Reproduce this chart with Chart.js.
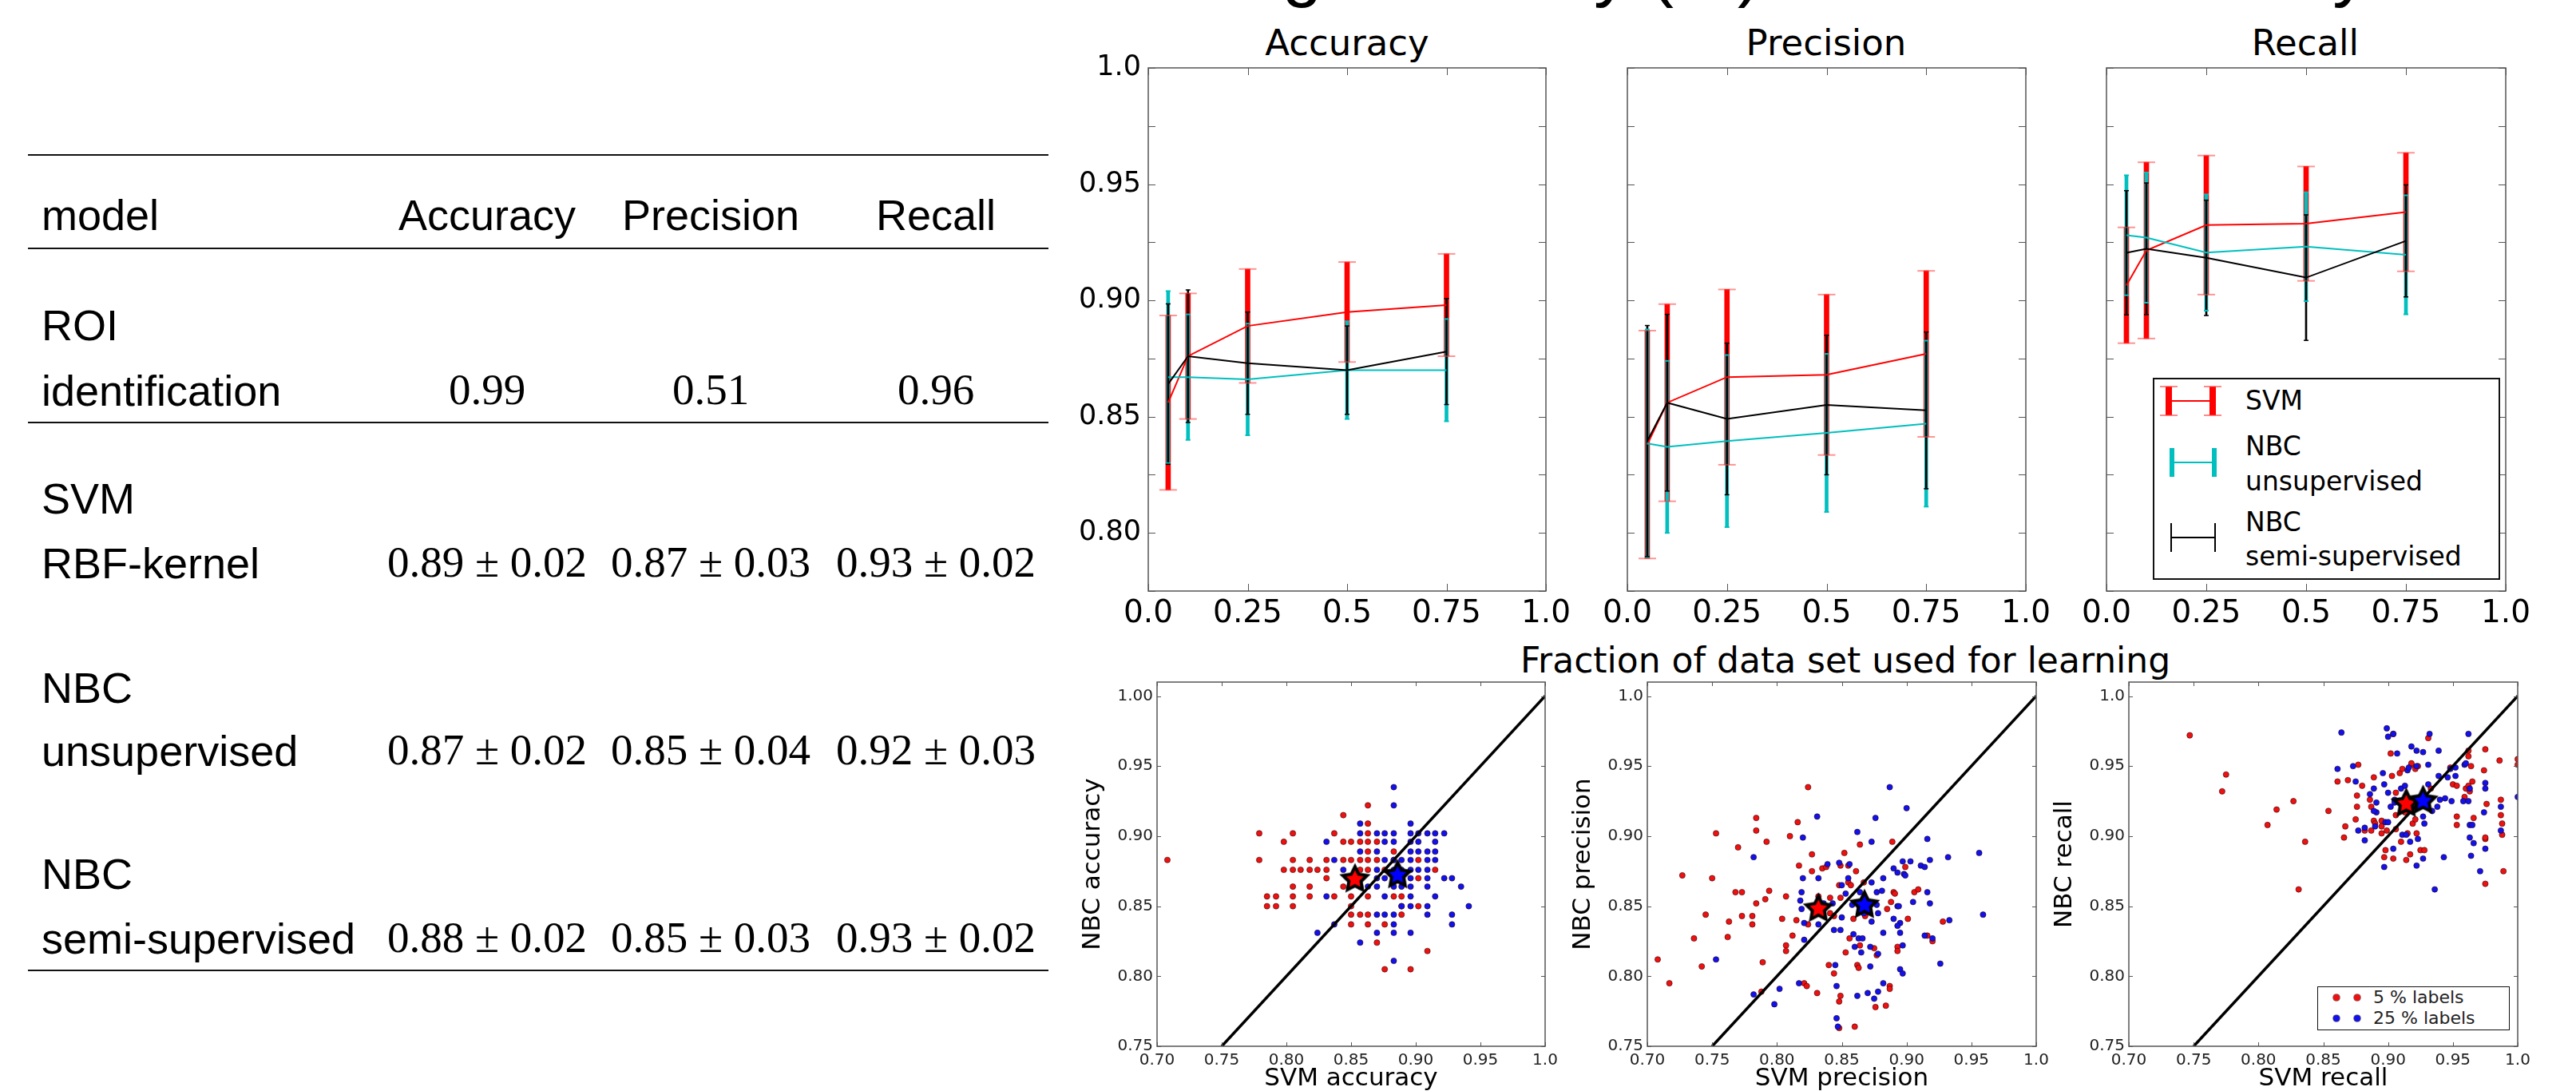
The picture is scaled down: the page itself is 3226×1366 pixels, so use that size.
<!DOCTYPE html>
<html lang="en">
<head>
<meta charset="UTF-8" />
<title>Classifier comparison</title>
<script src="https://cdn.jsdelivr.net/npm/chart.js@4.4.1/dist/chart.umd.min.js"></script>
<style>
  html, body { margin: 0; padding: 0; background: #fff; }
  body { width: 3226px; height: 1366px; overflow: hidden; position: relative; color: #000; font-family: 'DejaVu Sans', sans-serif; }
  .abs { position: absolute; white-space: nowrap; }
  canvas { position: absolute; }
  .rule { position: absolute; left: 35px; width: 1278px; height: 2px; background: #111; }
  .sans { font-family: 'Liberation Sans', Arial, sans-serif; font-size: 54px; line-height: 60px; }
  .num { font-family: 'Liberation Serif', serif; font-size: 55px; line-height: 60px; width: 320px; text-align: center; }
  .ptitle { font-size: 45px; line-height: 54px; width: 500px; text-align: center; }
  .lg { position: absolute; background: #fff; border: 2px solid #111; z-index: 5; }
  .lgtxt { position: absolute; font-size: 33px; line-height: 40px; white-space: nowrap; z-index: 6; }
  .bar { position: absolute; z-index: 6; }
</style>
</head>
<body>
<div class="abs" id="slideTitle" style="left:30px; top:-85px; font-family:'Liberation Sans', Arial, sans-serif; font-size:90px; line-height:90px;">Results of all the classifiers trained using accuracy (%) are able to identify ROIs</div>

<div id="table"></div>

<div class="abs ptitle" style="left:1437px; top:27px;">Accuracy</div>
<div class="abs ptitle" style="left:2037px; top:27px;">Precision</div>
<div class="abs ptitle" style="left:2637px; top:27px;">Recall</div>
<div class="abs" style="left:1904px; width:800px; text-align:center; top:800px; font-size:44px; line-height:53px;">Fraction of data set used for learning</div>

<canvas id="topAcc"></canvas>
<canvas id="topPrec"></canvas>
<canvas id="topRec"></canvas>
<canvas id="scAcc"></canvas>
<canvas id="scPrec"></canvas>
<canvas id="scRec"></canvas>

<!-- legend of the learning curves -->
<div class="lg" style="left:2696px; top:473px; width:431px; height:249px;"></div>
<div id="legendTop"></div>

<!-- legend of the scatter plots -->
<div class="lg" style="left:2902px; top:1235px; width:239px; height:53px; border-width:1.5px;"></div>
<div id="legendScatter"></div>

<script>
// ---- table ----
const tableHead = ['model', 'Accuracy', 'Precision', 'Recall'];
const tableModels = [['ROI', 'identification'], ['SVM', 'RBF-kernel'], ['NBC', 'unsupervised'], ['NBC', 'semi-supervised']];
const tableAccuracy = ['0.99', '0.89 \u00b1 0.02', '0.87 \u00b1 0.02', '0.88 \u00b1 0.02'];
const tablePrecision = ['0.51', '0.87 \u00b1 0.03', '0.85 \u00b1 0.04', '0.85 \u00b1 0.03'];
const tableRecall = ['0.96', '0.93 \u00b1 0.02', '0.92 \u00b1 0.03', '0.93 \u00b1 0.02'];

// ---- learning curves ----
const fractions = [0.05, 0.1, 0.25, 0.5, 0.75];
const accSvm = [0.856, 0.876, 0.889, 0.895, 0.898];
const accSvmErr = [0.0375, 0.027, 0.0245, 0.0215, 0.022];
const accUnsup = [0.867, 0.867, 0.866, 0.870, 0.870];
const accUnsupErr = [0.037, 0.027, 0.024, 0.021, 0.022];
const accSemi = [0.864, 0.876, 0.873, 0.870, 0.878];
const accSemiErr = [0.0345, 0.0285, 0.022, 0.019, 0.0228];

const precSvm = [0.838, 0.856, 0.867, 0.868, 0.877];
const precSvmErr = [0.049, 0.0424, 0.0377, 0.0345, 0.0357];
const precUnsup = [0.8385, 0.837, 0.8395, 0.843, 0.847];
const precUnsupErr = [0.049, 0.037, 0.037, 0.034, 0.0357];
const precSemi = [0.8395, 0.856, 0.849, 0.855, 0.8527];
const precSemiErr = [0.0497, 0.038, 0.0326, 0.030, 0.0337];

const recSvm = [0.9065, 0.9215, 0.9324, 0.933, 0.938];
const recSvmErr = [0.0249, 0.0379, 0.0299, 0.0246, 0.0255];
const recUnsup = [0.928, 0.927, 0.9206, 0.9231, 0.9196];
const recUnsupErr = [0.0258, 0.028, 0.025, 0.0234, 0.0256];
const recSemi = [0.9205, 0.9222, 0.9183, 0.9098, 0.9256];
const recSemiErr = [0.0267, 0.0283, 0.0248, 0.027, 0.0241];

const topXTicks = [0, 0.25, 0.5, 0.75, 1.0];
const topXLabels = ['0.0', '0.25', '0.5', '0.75', '1.0'];
const topYTicks = [0.775, 0.8, 0.825, 0.85, 0.875, 0.9, 0.925, 0.95, 0.975, 1.0];
const topYLabels = ['', '0.80', '', '0.85', '', '0.90', '', '0.95', '', '1.0'];
const seriesNames = ['SVM', 'NBC unsupervised', 'NBC semi-supervised'];

// ---- scatter: SVM score (x) vs NBC score (y) per run ----
const accScat5 = [[.863,.922],[.844,.915],[.863,.909],[.779,.902],[.805,.902],[.837,.902],[.863,.902],[.798,.896],[.844,.896],[.850,.896],[.857,.896],[.863,.896],[.870,.896],[.863,.889],[.883,.889],[.708,.883],[.779,.883],[.805,.883],[.818,.883],[.831,.883],[.844,.883],[.850,.883],[.857,.883],[.863,.883],[.870,.883],[.883,.883],[.902,.883],[.798,.876],[.805,.876],[.811,.876],[.818,.876],[.824,.876],[.831,.876],[.857,.876],[.863,.876],[.876,.876],[.915,.876],[.831,.870],[.902,.870],[.805,.864],[.818,.864],[.844,.864],[.785,.857],[.792,.857],[.805,.857],[.818,.857],[.837,.857],[.850,.857],[.863,.857],[.883,.857],[.889,.857],[.785,.850],[.792,.850],[.805,.850],[.850,.850],[.889,.850],[.902,.850],[.850,.844],[.857,.844],[.863,.844],[.889,.844],[.850,.837],[.863,.837],[.876,.837],[.870,.824],[.909,.818],[.876,.805],[.896,.805]];
const accScat25 = [[.883,.935],[.883,.922],[.857,.909],[.896,.909],[.857,.902],[.870,.902],[.876,.902],[.883,.902],[.896,.902],[.902,.902],[.909,.902],[.915,.902],[.922,.902],[.831,.896],[.876,.896],[.883,.896],[.896,.896],[.902,.896],[.915,.896],[.857,.889],[.870,.889],[.896,.889],[.902,.889],[.909,.889],[.915,.889],[.837,.883],[.876,.883],[.883,.883],[.889,.883],[.896,.883],[.909,.883],[.915,.883],[.844,.876],[.870,.876],[.883,.876],[.889,.876],[.896,.876],[.902,.876],[.909,.876],[.870,.870],[.876,.870],[.889,.870],[.896,.870],[.909,.870],[.922,.870],[.928,.870],[.857,.864],[.863,.864],[.870,.864],[.883,.864],[.889,.864],[.896,.864],[.909,.864],[.935,.864],[.831,.857],[.876,.857],[.896,.857],[.915,.857],[.889,.850],[.896,.850],[.909,.850],[.941,.850],[.870,.844],[.876,.844],[.883,.844],[.909,.844],[.928,.844],[.837,.837],[.883,.837],[.928,.837],[.824,.831],[.870,.831],[.883,.831],[.896,.831],[.857,.824],[.883,.811]];
const accMean5 = [0.853, 0.870];
const accMean25 = [0.886, 0.873];

const precScat5 = [[.824,.935],[.784,.913],[.816,.910],[.784,.904],[.753,.902],[.792,.896],[.810,.900],[.770,.892],[.827,.887],[.852,.888],[.889,.896],[.864,.894],[.817,.879],[.727,.872],[.750,.870],[.827,.875],[.835,.877],[.838,.878],[.849,.879],[.855,.879],[.861,.875],[.768,.860],[.773,.860],[.794,.861],[.791,.855],[.807,.857],[.784,.852],[.832,.857],[.848,.865],[.855,.867],[.857,.865],[.867,.867],[.890,.860],[.891,.859],[.906,.860],[.909,.862],[.899,.878],[.745,.844],[.773,.843],[.781,.843],[.763,.839],[.781,.837],[.804,.841],[.815,.840],[.824,.837],[.841,.845],[.844,.843],[.859,.841],[.868,.844],[.885,.848],[.888,.853],[.901,.841],[.928,.839],[.736,.827],[.762,.828],[.812,.829],[.807,.822],[.807,.818],[.853,.817],[.856,.827],[.864,.822],[.875,.820],[.877,.815],[.893,.821],[.893,.818],[.916,.829],[.920,.825],[.708,.812],[.742,.807],[.789,.810],[.840,.808],[.844,.802],[.862,.808],[.863,.806],[.717,.795],[.788,.789],[.821,.795],[.823,.793],[.831,.788],[.849,.786],[.848,.782],[.876,.778],[.884,.779],[.887,.793],[.887,.791],[.848,.763],[.860,.764],[.841,.856],[.849,.856],[.868,.843]];
const precScat25 = [[.887,.935],[.900,.920],[.831,.914],[.876,.913],[.862,.903],[.820,.899],[.873,.896],[.916,.898],[.782,.885],[.956,.888],[.839,.880],[.848,.881],[.856,.880],[.897,.882],[.903,.882],[.911,.879],[.914,.878],[.918,.883],[.932,.885],[.820,.870],[.832,.870],[.855,.870],[.873,.867],[.882,.870],[.890,.877],[.893,.874],[.898,.873],[.899,.872],[.819,.860],[.818,.854],[.850,.865],[.853,.859],[.864,.860],[.877,.860],[.881,.861],[.916,.860],[.918,.852],[.905,.853],[.893,.850],[.836,.852],[.843,.852],[.819,.848],[.828,.848],[.821,.838],[.832,.837],[.850,.842],[.858,.851],[.867,.845],[.873,.839],[.877,.851],[.878,.845],[.890,.841],[.894,.850],[.895,.838],[.933,.840],[.959,.844],[.844,.833],[.849,.833],[.859,.830],[.860,.821],[.863,.827],[.865,.817],[.866,.827],[.872,.821],[.878,.816],[.882,.831],[.893,.836],[.895,.831],[.897,.822],[.914,.829],[.920,.827],[.821,.826],[.753,.812],[.872,.807],[.895,.805],[.897,.802],[.926,.809],[.782,.787],[.802,.791],[.798,.780],[.817,.795],[.845,.808],[.846,.793],[.846,.770],[.847,.764],[.862,.786],[.870,.788],[.875,.784],[.878,.789],[.882,.795]];
const precMean5 = [0.832, 0.849];
const precMean25 = [0.8675, 0.8517];

const recScat5 = [[.747,.972],[.775,.944],[.772,.932],[.827,.925],[.814,.919],[.807,.908],[.836,.896],[.831,.862],[.854,.918],[.861,.939],[.866,.899],[.867,.907],[.869,.940],[.875,.912],[.877,.951],[.876,.929],[.876,.921],[.880,.936],[.882,.904],[.886,.926],[.887,.921],[.887,.904],[.889,.942],[.889,.911],[.890,.909],[.895,.902],[.895,.911],[.895,.907],[.897,.885],[.898,.890],[.899,.904],[.902,.959],[.903,.943],[.904,.884],[.904,.973],[.906,.931],[.906,.915],[.906,.905],[.909,.945],[.910,.896],[.911,.948],[.913,.917],[.914,.883],[.915,.902],[.917,.887],[.918,.951],[.918,.952],[.919,.909],[.921,.912],[.921,.948],[.922,.902],[.923,.950],[.925,.890],[.928,.890],[.931,.970],[.933,.934],[.948,.949],[.950,.937],[.953,.914],[.953,.908],[.953,.936],[.959,.928],[.960,.934],[.962,.961],[.962,.957],[.962,.936],[.963,.932],[.964,.950],[.965,.939],[.966,.913],[.974,.947],[.975,.898],[.975,.962],[.976,.923],[.975,.866],[.975,.899],[.986,.954],[.987,.926],[.987,.915],[.988,.909],[.988,.901],[.989,.875],[1.0,.955],[1.0,.951]];
const recScat25 = [[.864,.974],[.899,.977],[.904,.973],[.900,.971],[.918,.964],[.922,.961],[.927,.960],[.939,.961],[.932,.973],[.962,.973],[.861,.948],[.873,.950],[.875,.939],[.886,.930],[.889,.934],[.891,.924],[.891,.917],[.890,.907],[.896,.945],[.897,.937],[.898,.910],[.900,.931],[.902,.921],[.905,.926],[.907,.959],[.910,.934],[.913,.936],[.915,.947],[.916,.949],[.922,.950],[.927,.914],[.928,.909],[.931,.951],[.931,.937],[.934,.918],[.938,.921],[.939,.943],[.940,.926],[.944,.927],[.946,.942],[.948,.948],[.949,.925],[.952,.949],[.952,.943],[.958,.925],[.959,.951],[.960,.952],[.962,.925],[.963,.934],[.963,.908],[.963,.899],[.964,.886],[.965,.908],[.966,.895],[.971,.875],[.975,.938],[.975,.934],[.974,.917],[.975,.891],[.987,.921],[.987,.904],[1.0,.928],[.877,.904],[.882,.897],[.897,.878],[.904,.891],[.911,.901],[.914,.901],[.917,.896],[.923,.898],[.922,.879],[.927,.884],[.936,.862],[.943,.885],[.900,.910],[.905,.924],[.889,.918],[.882,.906]];
const recMean5 = [0.914, 0.924];
const recMean25 = [0.927, 0.926];

const diagonal = [0.75, 1.0];
const scatXTicks = [0.70, 0.75, 0.80, 0.85, 0.90, 0.95, 1.0];
const scatXLabels = ['0.70', '0.75', '0.80', '0.85', '0.90', '0.95', '1.0'];
const scatYTicks = [0.75, 0.80, 0.85, 0.90, 0.95, 1.0];
const accYLabels = ['0.75', '0.80', '0.85', '0.90', '0.95', '1.00'];
const otherYLabels = ['0.75', '0.80', '0.85', '0.90', '0.95', '1.0'];
const scatterNames = ['5 % labels', '25 % labels'];

// ---------------- table ----------------
const tbl = document.getElementById('table');
let html = '';
[193, 310, 528, 1214].forEach(y => { html += `<div class="rule" style="top:${y}px"></div>`; });
const colX = [610, 890, 1172];
html += `<div class="abs sans" style="left:52px; top:239px">${tableHead[0]}</div>`;
tableHead.slice(1).forEach((h, i) => {
  html += `<div class="abs sans" style="left:${colX[i] - 160}px; width:320px; text-align:center; top:239px">${h}</div>`;
});
const line1 = [406, 623, 860, 1093], line2 = [488, 704, 939, 1174];
tableModels.forEach((m, r) => {
  html += `<div class="abs sans" style="left:52px; top:${line1[r] - 29}px">${m[0]}</div>`;
  html += `<div class="abs sans" style="left:52px; top:${line2[r] - 29}px">${m[1]}</div>`;
  [tableAccuracy, tablePrecision, tableRecall].forEach((col, c) => {
    html += `<div class="abs num" style="left:${colX[c] - 160}px; top:${line2[r] - 30}px">${col[r]}</div>`;
  });
});
tbl.innerHTML = html;

// ---------------- charts ----------------
const framePlugin = {
  id: 'frame',
  afterDraw(chart, args, o) {
    const {ctx, chartArea: a, scales: {x, y}} = chart;
    ctx.save();
    ctx.strokeStyle = o.color;
    ctx.lineWidth = o.width;
    ctx.beginPath();
    x.ticks.forEach(t => {
      const px = Math.round(x.getPixelForValue(t.value)) + 0.5;
      ctx.moveTo(px, a.bottom); ctx.lineTo(px, a.bottom - o.len);
      ctx.moveTo(px, a.top); ctx.lineTo(px, a.top + o.len);
    });
    y.ticks.forEach(t => {
      const py = Math.round(y.getPixelForValue(t.value)) + 0.5;
      ctx.moveTo(a.left, py); ctx.lineTo(a.left + o.len, py);
      ctx.moveTo(a.right, py); ctx.lineTo(a.right - o.len, py);
    });
    ctx.stroke();
    ctx.lineWidth = o.border;
    ctx.strokeRect(a.left, a.top, a.right - a.left, a.bottom - a.top);
    ctx.restore();
  }
};

function place(cv, left, top, w, h) {
  cv.width = w; cv.height = h;
  cv.style.left = left + 'px'; cv.style.top = top + 'px';
  cv.style.width = w + 'px'; cv.style.height = h + 'px';
}

const topStyles = [
  {color: '#ff0000', bar: 6, cap: 11, capW: 2, capColor: 'rgba(255,60,60,0.55)'},
  {color: '#00bfbf', bar: 4, cap: 3, capW: 2, capColor: '#00bfbf'},
  {color: '#000000', bar: 2, cap: 3, capW: 1.5, capColor: '#000000'}
];

function errorDatasets(mean, err, st, k) {
  return [
    {type: 'bar', label: seriesNames[k], data: fractions.map((f, i) => ({x: f, y: [mean[i] - err[i], mean[i] + err[i]]})),
     backgroundColor: st.color, borderWidth: 0, barThickness: st.bar, grouped: false, order: 9 - k},
    {type: 'scatter', data: fractions.flatMap((f, i) => [{x: f, y: mean[i] - err[i]}, {x: f, y: mean[i] + err[i]}]),
     pointStyle: 'line', pointRadius: st.cap, borderColor: st.capColor, backgroundColor: st.capColor, borderWidth: st.capW, order: 6 - k},
    {type: 'line', data: fractions.map((f, i) => ({x: f, y: mean[i]})),
     borderColor: st.color, borderWidth: 2, pointRadius: 0, tension: 0, fill: false, order: 3 - k}
  ];
}

function topChart(id, rect, groups, showY) {
  const W = showY ? 95 : 40, padR = 40, padT = 30, H = 60;
  const cv = document.getElementById(id);
  place(cv, rect.l - W, rect.t - padT, W + rect.r - rect.l + padR, padT + rect.b - rect.t + H);
  const datasets = groups.flatMap((g, k) => errorDatasets(g[0], g[1], topStyles[k], k));
  new Chart(cv, {
    type: 'bar',
    data: {datasets},
    plugins: [framePlugin],
    options: {
      responsive: false, animation: false, events: [],
      layout: {padding: {top: padT, right: padR, left: 0, bottom: 0}},
      plugins: {legend: {display: false}, tooltip: {enabled: false}, frame: {len: 9, color: '#555', width: 1, border: 1.5}},
      scales: {
        x: {type: 'linear', min: 0, max: 1, offset: false, grid: {display: false, drawTicks: false, offset: false}, border: {display: false},
            afterBuildTicks: s => { s.ticks = topXTicks.map(v => ({value: v})); },
            afterFit: s => { s.height = H; },
            ticks: {padding: 5, autoSkip: false, maxRotation: 0, color: '#000', font: {family: 'DejaVu Sans', size: 39},
                    callback: (v, i) => topXLabels[i]}},
        y: {type: 'linear', min: 0.775, max: 1.0, beginAtZero: false, grid: {display: false, drawTicks: false}, border: {display: false},
            afterBuildTicks: s => { s.ticks = topYTicks.map(v => ({value: v})); },
            afterFit: s => { s.width = W; },
            ticks: {display: showY, padding: 9, autoSkip: false, color: '#000', font: {family: 'DejaVu Sans', size: 35},
                    callback: (v, i) => topYLabels[i]}}
      }
    }
  });
}

topChart('topAcc', {l: 1438, r: 1936, t: 85, b: 740}, [[accSvm, accSvmErr], [accUnsup, accUnsupErr], [accSemi, accSemiErr]], true);
topChart('topPrec', {l: 2038, r: 2537, t: 85, b: 740}, [[precSvm, precSvmErr], [precUnsup, precUnsupErr], [precSemi, precSemiErr]], false);
topChart('topRec', {l: 2638, r: 3138, t: 85, b: 740}, [[recSvm, recSvmErr], [recUnsup, recUnsupErr], [recSemi, recSemiErr]], false);

function starImage(fill, r) {
  const c = document.createElement('canvas');
  const s = 2 * r + 20;
  c.width = c.height = s;
  const g = c.getContext('2d');
  g.beginPath();
  for (let k = 0; k < 10; k++) {
    const rr = k % 2 ? r * 0.5 : r;
    const a = -Math.PI / 2 + k * Math.PI / 5;
    g.lineTo(s / 2 + rr * Math.cos(a), s / 2 + 1.5 + rr * Math.sin(a));
  }
  g.closePath();
  g.fillStyle = fill; g.fill();
  g.lineWidth = 4; g.strokeStyle = '#000'; g.lineJoin = 'miter'; g.stroke();
  return c;
}
const redStar = starImage('#ff0000', 16);
const blueStar = starImage('#0000ff', 16);

function scatterChart(id, rect, pts5, pts25, mean5, mean25, xTitle, yTitle, yLabels) {
  const W = 99, padR = 25, padT = 20, H = 60;
  const cv = document.getElementById(id);
  place(cv, rect.l - W, rect.t - padT, W + rect.r - rect.l + padR, padT + rect.b - rect.t + H);
  const dot = (c) => ({pointRadius: 3.6, backgroundColor: c, borderColor: 'rgba(40,0,0,0.7)', borderWidth: 0.8});
  new Chart(cv, {
    type: 'scatter',
    data: {datasets: [
      {label: scatterNames[0], data: pts5.map(p => ({x: p[0], y: p[1]})), ...dot('#ee1111'), order: 4},
      {label: scatterNames[1], data: pts25.map(p => ({x: p[0], y: p[1]})), ...dot('#1111ee'), order: 3},
      {type: 'line', data: diagonal.map(v => ({x: v, y: v})), borderColor: '#000', borderWidth: 3.5, pointRadius: 0, order: 2},
      {data: [{x: mean5[0], y: mean5[1]}], pointStyle: redStar, pointRadius: 16, order: 1},
      {data: [{x: mean25[0], y: mean25[1]}], pointStyle: blueStar, pointRadius: 16, order: 0}
    ]},
    plugins: [framePlugin],
    options: {
      responsive: false, animation: false, events: [],
      layout: {padding: {top: padT, right: padR, left: 0, bottom: 0}},
      plugins: {legend: {display: false}, tooltip: {enabled: false}, frame: {len: 5, color: '#555', width: 1, border: 1.5}},
      scales: {
        x: {type: 'linear', min: 0.70, max: 1.0, grid: {display: false, drawTicks: false}, border: {display: false},
            afterBuildTicks: s => { s.ticks = scatXTicks.map(v => ({value: v})); },
            afterFit: s => { s.height = H; },
            title: {display: true, text: xTitle, color: '#000', font: {family: 'DejaVu Sans', size: 31}, padding: 0},
            ticks: {padding: 6, autoSkip: false, maxRotation: 0, color: '#222', font: {family: 'DejaVu Sans', size: 20},
                    callback: (v, i) => scatXLabels[i]}},
        y: {type: 'linear', min: 0.75, max: 1.01, grid: {display: false, drawTicks: false}, border: {display: false},
            afterBuildTicks: s => { s.ticks = scatYTicks.map(v => ({value: v})); },
            afterFit: s => { s.width = W; },
            title: {display: true, text: yTitle, color: '#000', font: {family: 'DejaVu Sans', size: 31}, padding: 0},
            ticks: {padding: 5, autoSkip: false, color: '#222', font: {family: 'DejaVu Sans', size: 20},
                    callback: (v, i) => yLabels[i]}}
      }
    }
  });
}

scatterChart('scAcc', {l: 1449, r: 1935, t: 854, b: 1310}, accScat5, accScat25, accMean5, accMean25, 'SVM accuracy', 'NBC accuracy', accYLabels);
scatterChart('scPrec', {l: 2063, r: 2550, t: 854, b: 1310}, precScat5, precScat25, precMean5, precMean25, 'SVM precision', 'NBC precision', otherYLabels);
scatterChart('scRec', {l: 2666, r: 3153, t: 854, b: 1310}, recScat5, recScat25, recMean5, recMean25, 'SVM recall', 'NBC recall', otherYLabels);

// ---------------- legends ----------------
function box(l, t, w, h, c) { return `<div class="bar" style="left:${l}px; top:${t}px; width:${w}px; height:${h}px; background:${c}"></div>`; }
let lt = '';
// SVM icon
lt += box(2716, 501, 55, 2, '#ff0000');
lt += box(2712, 484, 8, 36, '#ff0000') + box(2767, 484, 8, 36, '#ff0000');
lt += box(2705, 483, 22, 2, 'rgba(255,60,60,0.6)') + box(2705, 519, 22, 2, 'rgba(255,60,60,0.6)');
lt += box(2760, 483, 22, 2, 'rgba(255,60,60,0.6)') + box(2760, 519, 22, 2, 'rgba(255,60,60,0.6)');
// NBC unsupervised icon
lt += box(2720, 578, 52, 2, '#00bfbf');
lt += box(2717, 561, 6, 36, '#00bfbf') + box(2770, 561, 6, 36, '#00bfbf');
// NBC semi-supervised icon
lt += box(2719, 672, 55, 2, '#000');
lt += box(2718, 655, 2, 36, '#000') + box(2773, 655, 2, 36, '#000');
const legTexts = [['SVM', 502], ['NBC', 559], ['unsupervised', 603], ['NBC', 654], ['semi-supervised', 697]];
legTexts.forEach(([t, c]) => { lt += `<div class="lgtxt" style="left:2812px; top:${c - 20}px">${t}</div>`; });
document.getElementById('legendTop').innerHTML = lt;

let ls = '';
const dotDiv = (x, y, c) => `<div class="bar" style="left:${x - 4}px; top:${y - 4}px; width:8px; height:8px; border-radius:50%; background:${c}; box-shadow:0 0 0 0.8px rgba(40,0,0,0.6)"></div>`;
ls += dotDiv(2926, 1249, '#ee1111') + dotDiv(2952, 1249, '#ee1111');
ls += dotDiv(2926, 1275, '#1111ee') + dotDiv(2952, 1275, '#1111ee');
ls += `<div class="lgtxt" style="left:2972px; top:1236px; font-size:22px; line-height:26px; color:#222">${scatterNames[0]}</div>`;
ls += `<div class="lgtxt" style="left:2972px; top:1262px; font-size:22px; line-height:26px; color:#222">${scatterNames[1]}</div>`;
document.getElementById('legendScatter').innerHTML = ls;
</script>
</body>
</html>
